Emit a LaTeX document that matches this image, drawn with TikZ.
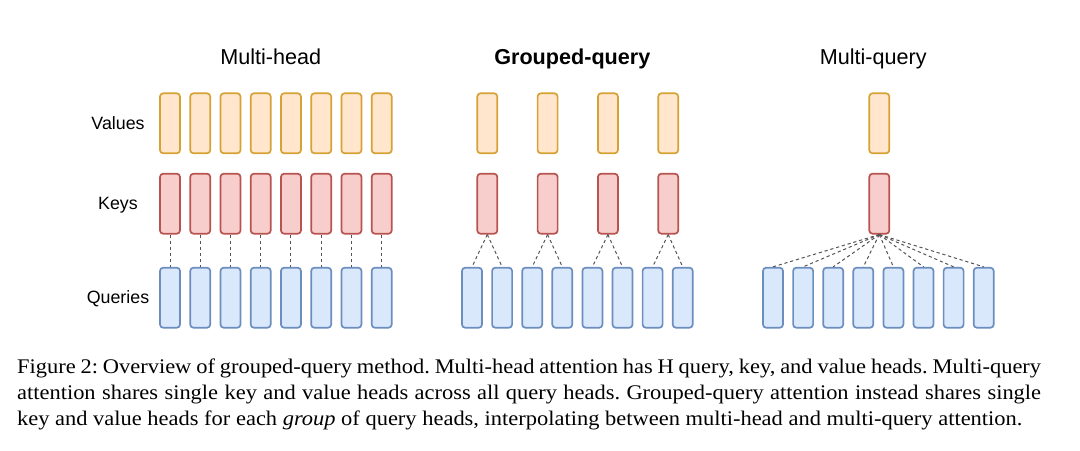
\documentclass[tikz,border=0pt]{standalone}
\usepackage{fontspec}
\setmainfont[FakeStretch=1.08]{Liberation Serif}
\setsansfont{Liberation Sans}
\definecolor{valfill}{HTML}{FFE6CC}
\definecolor{valdraw}{HTML}{D6A234}
\definecolor{keyfill}{HTML}{F8CECC}
\definecolor{keydraw}{HTML}{B85450}
\definecolor{qfill}{HTML}{DAE8FC}
\definecolor{qdraw}{HTML}{6C8EBF}
\definecolor{dashc}{HTML}{555555}
\tikzset{
  head/.style={rectangle, rounded corners=1.6pt, minimum width=10pt, minimum height=30pt, inner sep=0pt, line width=0.85pt},
  valbox/.style={head, draw=valdraw, fill=valfill},
  keybox/.style={head, draw=keydraw, fill=keyfill},
  qbox/.style={head, draw=qdraw, fill=qfill},
  conn/.style={draw=dashc, line width=0.5pt, dash pattern=on 1.6pt off 1.4pt},
  title/.style={anchor=base, inner sep=0pt, font=\sffamily\fontsize{10.8}{13}\selectfont},
  rowlabel/.style={anchor=base, inner sep=0pt, font=\sffamily\fontsize{8.9}{11}\selectfont},
}
\begin{document}
\begin{tikzpicture}[x=0.5pt,y=-0.5pt]
\useasboundingbox (0,0) rectangle (1080,450);
% titles
\node[title] (t1) at (270.7,64.7) {Multi-head};
\node[title, font=\sffamily\bfseries\fontsize{10.8}{13}\selectfont] (t2) at (572.3,64.7) {Grouped-query};
\node[title] (t3) at (873.3,64.7) {Multi-query};
% row labels
\node[rowlabel] (lv) at (118,129.3) {Values};
\node[rowlabel] (lk) at (118,209.5) {Keys};
\node[rowlabel] (lq) at (118,303.0) {Queries};
% multi-head
\foreach \i in {0,...,7}{
  \node[valbox] (mhv\i) at ({170+30.24*\i},123.3) {};
  \node[keybox] (mhk\i) at ({170+30.24*\i},203.7) {};
  \node[qbox] (mhq\i) at ({170+30.24*\i},297.7) {};
  \draw[conn] (mhk\i.south) -- (mhq\i.north);
}
% grouped-query
\foreach \j in {0,...,3}{
  \node[valbox] (gv\j) at ({487.3+60.3*\j},123.3) {};
  \node[keybox] (gk\j) at ({487.3+60.3*\j},203.7) {};
}
\foreach \i in {0,...,7}{
  \node[qbox] (gq\i) at ({472+30.1*\i},297.7) {};
}
\foreach \i [evaluate=\i as \g using {int(\i/2)}] in {0,...,7}{
  \draw[conn] (gk\g.south) -- (gq\i.north);
}
% multi-query
\node[valbox] (mqv) at (879.3,123.3) {};
\node[keybox] (mqk) at (879.3,203.7) {};
\foreach \i in {0,...,7}{
  \node[qbox] (mqq\i) at ({773+30.1*\i},297.7) {};
  \draw[conn] (mqk.south) -- (mqq\i.north);
}
% caption
\node[anchor=base west, inner sep=0pt] (cap) at (16.7,373.3) {\parbox[t]{512pt}{\fontsize{10.4}{13}\selectfont\frenchspacing\setlength{\parindent}{0pt}%
Figure 2: Overview of grouped-query method. Multi-head attention has H query, key, and value heads. Multi-query\linebreak
attention shares single key and value heads across all query heads. Grouped-query attention instead shares single\linebreak
key and value heads for each \textit{group} of query heads, interpolating between multi-head and multi-query attention.}};
\end{tikzpicture}
\end{document}
